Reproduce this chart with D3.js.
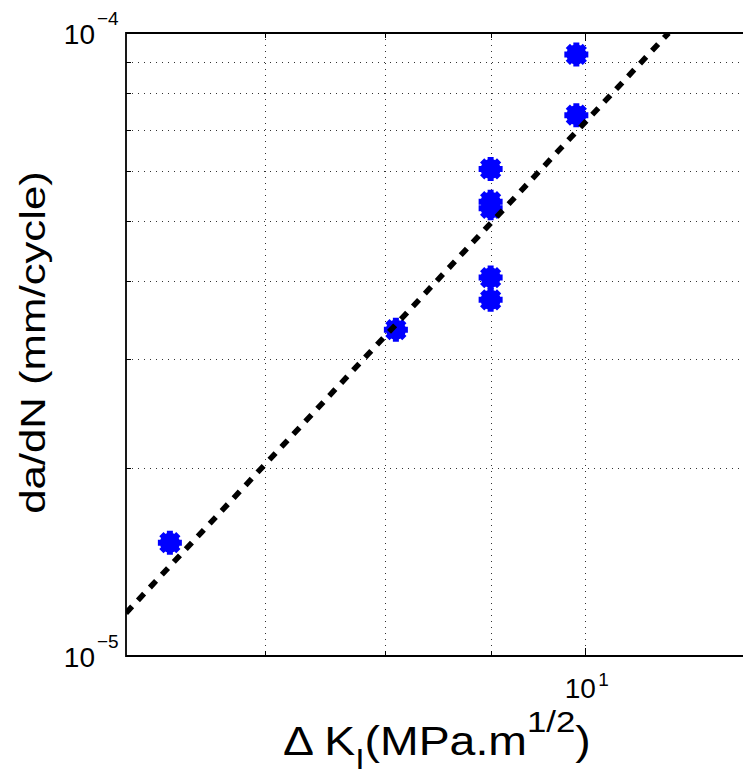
<!DOCTYPE html>
<html>
<head>
<meta charset="utf-8">
<script src="https://cdn.jsdelivr.net/npm/d3@7"></script>
<style>
  html, body { margin: 0; padding: 0; background: #fff; }
  svg { display: block; }
  text { font-family: "Liberation Sans", Arial, Helvetica, sans-serif; fill: #000; }
</style>
</head>
<body>
<svg id="chart" width="743" height="778"></svg>
<script>
// ---- data ----
const deltaK = [6.3, 8.1, 9.0, 9.0, 9.0, 9.0, 9.0, 9.9, 9.9];
const dadN   = [1.52e-5, 3.34e-5, 6.05e-5, 5.36e-5, 5.23e-5, 4.05e-5, 3.73e-5, 9.24e-5, 7.38e-5];
const fitK    = [6.0, 10.97];
const fitRate = [1.172e-5, 1.0e-4];
const xGridValues = [7, 8, 9, 10];
const yGridValues = [2e-5, 3e-5, 4e-5, 5e-5, 6e-5, 7e-5, 8e-5, 9e-5];
const xMajorTicks = [{value: 10, base: "10", exp: "1"}];
const yMajorTicks = [{value: 1e-5, base: "10", exp: "\u22125"}, {value: 1e-4, base: "10", exp: "\u22124"}];
const xDomain = [6, 15];
const yDomain = [1e-5, 1e-4];

(function () {
// ---- layout ----
const pLeft = 126, pTop = 33, pBottom = 656, pRight = 950;
const svg = d3.select("#chart");

const x = d3.scaleLog().domain(xDomain).range([pLeft, pRight]);
const y = d3.scaleLog().domain(yDomain).range([pBottom, pTop]);

svg.append("defs").append("clipPath").attr("id", "plotclip")
  .append("rect").attr("x", pLeft).attr("y", pTop)
  .attr("width", pRight - pLeft).attr("height", pBottom - pTop);

// grid
const grid = svg.append("g").attr("stroke", "#333").attr("stroke-width", 1)
  .attr("stroke-dasharray", "1,5").attr("fill", "none");
grid.selectAll("line.vx").data(xGridValues).join("line")
  .attr("x1", d => Math.round(x(d)) + 0.5).attr("x2", d => Math.round(x(d)) + 0.5)
  .attr("y1", pTop).attr("y2", pBottom);
grid.selectAll("line.hy").data(yGridValues).join("line")
  .attr("y1", d => Math.round(y(d)) + 0.5).attr("y2", d => Math.round(y(d)) + 0.5)
  .attr("x1", pLeft).attr("x2", pRight);

// ticks (inward)
const tk = svg.append("g").attr("stroke", "#000").attr("stroke-width", 1);
tk.selectAll("line.yt").data(yGridValues).join("line")
  .attr("x1", pLeft).attr("x2", pLeft + 5)
  .attr("y1", d => Math.round(y(d)) + 0.5).attr("y2", d => Math.round(y(d)) + 0.5);
tk.selectAll("line.xtb").data(xGridValues).join("line")
  .attr("x1", d => Math.round(x(d)) + 0.5).attr("x2", d => Math.round(x(d)) + 0.5)
  .attr("y1", pBottom).attr("y2", d => pBottom - (d === 10 ? 8 : 5));
tk.selectAll("line.xtt").data(xGridValues).join("line")
  .attr("x1", d => Math.round(x(d)) + 0.5).attr("x2", d => Math.round(x(d)) + 0.5)
  .attr("y1", pTop).attr("y2", d => pTop + (d === 10 ? 8 : 5));

// frame
svg.append("path")
  .attr("d", `M${pRight},${pTop}H${pLeft}V${pBottom}H${pRight}`)
  .attr("fill", "none").attr("stroke", "#000").attr("stroke-width", 1.8);

// markers
const plot = svg.append("g").attr("clip-path", "url(#plotclip)");
const pts = deltaK.map((k, i) => ({k, r: dadN[i]}));
const mk = plot.selectAll("g.mk").data(pts).join("g")
  .attr("transform", d => `translate(${x(d.k)},${y(d.r)})`);
mk.append("circle").attr("r", 10).attr("fill", "#0000ff");
mk.append("path")
  .attr("d", () => {
    const L = 12, D = L * Math.SQRT1_2;
    return `M${-L},0H${L}M0,${-L}V${L}M${-D},${-D}L${D},${D}M${-D},${D}L${D},${-D}`;
  })
  .attr("stroke", "#0000ff").attr("stroke-width", 6).attr("fill", "none");

// fit line
const fitPts = fitK.map((k, i) => [x(k), y(fitRate[i])]);
plot.append("path")
  .attr("d", d3.line()(fitPts))
  .attr("fill", "none").attr("stroke", "#000").attr("stroke-width", 5.5)
  .attr("stroke-dasharray", "9,8.5");

// y tick labels
yMajorTicks.forEach(t => {
  const py = y(t.value);
  svg.append("text").attr("x", 95).attr("y", py + 10.5)
    .attr("text-anchor", "end").attr("font-size", 28).text(t.base);
  svg.append("text").attr("x", 97).attr("y", py - 8)
    .attr("font-size", 19).text(t.exp);
});
// x tick labels
xMajorTicks.forEach(t => {
  const px = x(t.value);
  svg.append("text").attr("x", px - 5).attr("y", 698)
    .attr("text-anchor", "middle").attr("font-size", 28).text(t.base);
  svg.append("text").attr("x", px + 13).attr("y", 686)
    .attr("font-size", 19).text(t.exp);
});

// x label
const xl = svg.append("g").attr("transform", "translate(283,755) scale(1.16,1)");
const xt = xl.append("text").attr("font-size", 40).attr("x", 0).attr("y", 0);
xt.append("tspan").text("\u0394 K");
xt.append("tspan").attr("font-size", 29).attr("dy", 14).text("I");
xt.append("tspan").attr("dy", -14).text("(MPa.m");
xt.append("tspan").attr("font-size", 30).attr("dy", -23).text("1/2");
xt.append("tspan").attr("dy", 23).text(")");

// y label
svg.append("g").attr("transform", "translate(45,342.5) rotate(-90) scale(1.25,1)")
  .append("text").attr("text-anchor", "middle").attr("font-size", 35)
  .text("da/dN (mm/cycle)");
})();
</script>
</body>
</html>
